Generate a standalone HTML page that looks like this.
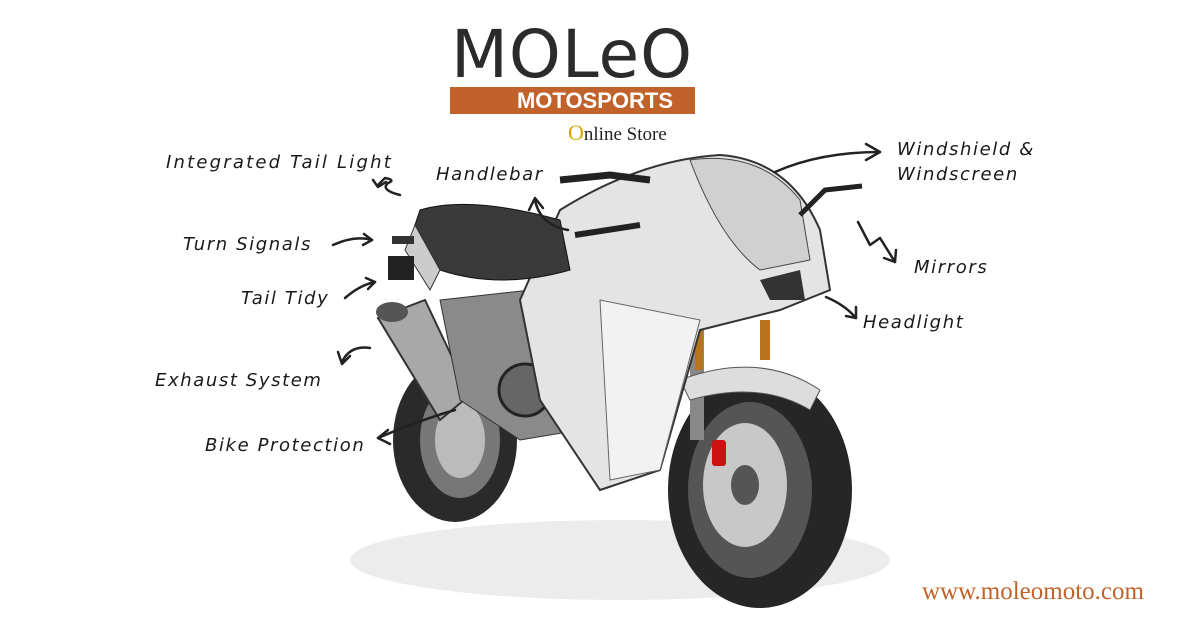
<!DOCTYPE html>
<html><head><meta charset="utf-8"><style>
html,body{margin:0;padding:0;background:#fff;}
#c{position:relative;width:1200px;height:628px;overflow:hidden;background:#fff;font-family:"Liberation Sans",sans-serif;}
.l{position:absolute;font-family:"DejaVu Sans",sans-serif;font-style:italic;font-size:18px;color:#1a1a1a;letter-spacing:1.6px;white-space:nowrap;}
</style></head><body><div id="c">
<svg width="1200" height="628" style="position:absolute;left:0;top:0">
<ellipse cx="620" cy="560" rx="270" ry="40" fill="#ececec"/>
<ellipse cx="455" cy="440" rx="62" ry="82" fill="#2a2a2a"/>
<ellipse cx="460" cy="440" rx="40" ry="58" fill="#777"/>
<ellipse cx="460" cy="440" rx="25" ry="38" fill="#bbb"/>
<ellipse cx="760" cy="490" rx="92" ry="118" fill="#262626"/>
<ellipse cx="750" cy="490" rx="62" ry="88" fill="#555"/>
<ellipse cx="745" cy="485" rx="42" ry="62" fill="#c8c8c8"/>
<ellipse cx="745" cy="485" rx="14" ry="20" fill="#555"/>
<rect x="712" y="440" width="14" height="26" fill="#c11" rx="3"/>
<rect x="690" y="320" width="14" height="120" fill="#888"/>
<rect x="695" y="330" width="8" height="40" fill="#b8731d"/>
<rect x="760" y="320" width="10" height="40" fill="#b8731d"/>
<path d="M680 380 Q760 350 820 390 L810 410 Q760 380 690 400Z" fill="#ddd" stroke="#555"/>
<path d="M378 318 L425 300 L470 395 L440 420 Z" fill="#a8a8a8" stroke="#333" stroke-width="2"/>
<ellipse cx="392" cy="312" rx="16" ry="10" fill="#555"/>
<path d="M440 300 L620 280 L640 420 L520 440 L460 400 Z" fill="#8a8a8a" stroke="#333"/>
<circle cx="525" cy="390" r="26" fill="#666" stroke="#222" stroke-width="3"/>
<path d="M560 210 Q640 160 720 155 Q790 160 820 230 L830 290 L780 310 L700 330 L660 470 L600 490 L540 400 L520 300 Z" fill="#e4e4e4" stroke="#333" stroke-width="2"/>
<path d="M690 160 Q760 150 800 200 L810 260 L760 270 Q720 240 690 160Z" fill="#d0d0d0" stroke="#444"/>
<path d="M600 300 L700 320 L660 470 L610 480 Z" fill="#f2f2f2" stroke="#666"/>
<path d="M760 280 L800 270 L805 300 L770 300 Z" fill="#333"/>
<path d="M420 210 Q470 195 560 220 L570 270 Q500 290 440 270 L415 225 Z" fill="#3a3a3a" stroke="#111"/>
<path d="M415 225 L440 270 L430 290 L405 250 Z" fill="#ccc" stroke="#333"/>
<rect x="392" y="236" width="22" height="8" fill="#333"/>
<rect x="388" y="256" width="26" height="24" fill="#222"/>
<path d="M560 180 L610 175 L650 180" stroke="#222" stroke-width="7" fill="none"/>
<path d="M575 235 L640 225" stroke="#222" stroke-width="6"/>
<path d="M800 215 L825 190 L862 186" stroke="#222" stroke-width="5" fill="none"/>
<g stroke="#222" stroke-width="2.5" fill="none" stroke-linecap="round" stroke-linejoin="round">
<path d="M775 172 Q820 152 880 152"/><path d="M866 144 L880 152 L866 160"/>
<path d="M858 222 L870 245 L880 238 L895 262"/><path d="M884 258 L895 262 L896 250"/>
<path d="M826 297 Q845 305 856 318"/><path d="M846 316 L856 318 L856 307"/>
<path d="M568 230 Q540 225 535 200"/><path d="M529 210 L535 198 L543 208"/>
<path d="M400 195 Q380 190 388 183 Q396 180 385 178 L378 185"/><path d="M373 180 L378 187 L386 182"/>
<path d="M333 245 Q355 235 372 240"/><path d="M364 234 L372 240 L363 245"/>
<path d="M345 298 Q360 285 375 282"/><path d="M366 278 L375 282 L368 289"/>
<path d="M370 348 Q350 345 342 362"/><path d="M338 352 L342 364 L350 356"/>
<path d="M455 410 Q420 420 378 438"/><path d="M388 430 L378 438 L390 444"/>
</g>
</svg>
<div style="position:absolute;left:448px;top:24px;width:248px;text-align:center;font-family:'DejaVu Sans',sans-serif;font-size:66px;line-height:62px;color:#2b2b2b;letter-spacing:1px;">MOLeO</div>
<div style="position:absolute;left:450px;top:87px;width:245px;height:27px;background:#c0622a;"></div>
<div style="position:absolute;left:500px;top:87px;width:190px;height:27px;line-height:27px;text-align:center;color:#fff;font-weight:bold;font-size:22px;">MOTOSPORTS</div>
<div style="position:absolute;left:568px;top:120px;font-family:'Liberation Serif',serif;font-size:19px;color:#222;"><span style="color:#d9a400;font-size:22px">O</span>nline Store</div>
<div class="l" style="left:166px;top:152px;letter-spacing:2.2px">Integrated Tail Light</div>
<div class="l" style="left:436px;top:164px">Handlebar</div>
<div class="l" style="left:897px;top:137px;line-height:25px">Windshield &amp;<br>Windscreen</div>
<div class="l" style="left:183px;top:234px">Turn Signals</div>
<div class="l" style="left:914px;top:257px">Mirrors</div>
<div class="l" style="left:241px;top:288px">Tail Tidy</div>
<div class="l" style="left:863px;top:312px">Headlight</div>
<div class="l" style="left:155px;top:370px">Exhaust System</div>
<div class="l" style="left:205px;top:435px">Bike Protection</div>
<div style="position:absolute;left:922px;top:578px;font-family:'Liberation Serif',serif;font-size:25px;color:#c0622a;">www.moleomoto.com</div>
</div></body></html>
